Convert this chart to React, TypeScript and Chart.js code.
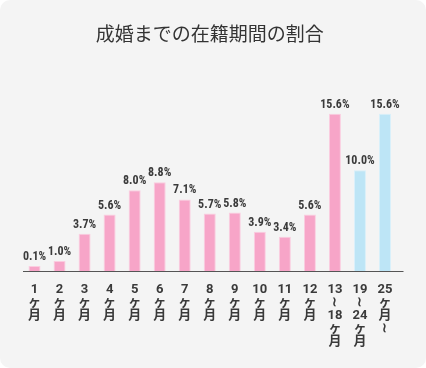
import React, { useEffect, useRef } from "react";
import { Chart, registerables } from "chart.js";

Chart.register(...registerables);

const TITLE = "成婚までの在籍期間の割合";
const categories: string[][] = [
  ["1", "ヶ", "月"],
  ["2", "ヶ", "月"],
  ["3", "ヶ", "月"],
  ["4", "ヶ", "月"],
  ["5", "ヶ", "月"],
  ["6", "ヶ", "月"],
  ["7", "ヶ", "月"],
  ["8", "ヶ", "月"],
  ["9", "ヶ", "月"],
  ["10", "ヶ", "月"],
  ["11", "ヶ", "月"],
  ["12", "ヶ", "月"],
  ["13", "≀", "18", "ヶ", "月"],
  ["19", "≀", "24", "ヶ", "月"],
  ["25", "ヶ", "月", "≀"],
];
const values = [0.1, 1.0, 3.7, 5.6, 8.0, 8.8, 7.1, 5.7, 5.8, 3.9, 3.4, 5.6, 15.6, 10.0, 15.6];
const groups = ["a", "a", "a", "a", "a", "a", "a", "a", "a", "a", "a", "a", "a", "b", "b"];

const FILL: Record<string, string> = { a: "#f7a5c8", b: "#bde5f6" };
const EDGE: Record<string, string> = { a: "#fbcde0", b: "#d9f0fa" };
const NUM_FONT = 'Roboto, "Noto Sans CJK JP", sans-serif';

const labelPlugin = {
  id: "valueLabels",
  afterDatasetsDraw(chart: any) {
    const ctx = chart.ctx;
    const meta = chart.getDatasetMeta(0);
    ctx.save();
    ctx.font = `bold 12px ${NUM_FONT}`;
    try { (ctx as any).fontStretch = "condensed"; } catch (e) {}
    ctx.fillStyle = "#3a3a3a";
    ctx.textAlign = "center";
    ctx.textBaseline = "bottom";
    meta.data.forEach((el: any, i: number) => {
      ctx.fillText(`${values[i].toFixed(1)}%`, el.x, el.y - 3);
    });
    ctx.restore();
  },
  afterDraw(chart: any) {
    const ctx = chart.ctx;
    const a = chart.chartArea;
    ctx.save();
    ctx.strokeStyle = "#555555";
    ctx.lineWidth = 1;
    ctx.beginPath();
    ctx.moveTo(a.left + 1, Math.round(a.bottom) + 0.5);
    ctx.lineTo(a.right + 6, Math.round(a.bottom) + 0.5);
    ctx.stroke();
    ctx.restore();
  },
};

export default function App() {
  const ref = useRef<HTMLCanvasElement | null>(null);
  useEffect(() => {
    if (!ref.current) return;
    const chart = new Chart(ref.current, {
      type: "bar",
      data: {
        labels: categories,
        datasets: [
          {
            data: values,
            backgroundColor: groups.map((g) => FILL[g]),
            borderColor: groups.map((g) => EDGE[g]),
            borderWidth: 1,
            barPercentage: 0.48,
            categoryPercentage: 1,
            minBarLength: 5,
          },
        ],
      },
      options: {
        responsive: false,
        animation: false,
        layout: { padding: { left: 22, right: 28.5, top: 0, bottom: 16 } },
        plugins: {
          legend: { display: false },
          tooltip: { enabled: false },
          title: {
            display: true,
            text: TITLE,
            color: "#333333",
            font: { family: '"Noto Sans CJK JP", sans-serif', size: 19, weight: "normal", lineHeight: 1.2 },
            padding: { top: 22, bottom: 44.7 },
          },
        },
        scales: {
          x: {
            grid: { display: false },
            border: { display: false },
            ticks: {
              color: "#3a3a3a",
              autoSkip: false,
              maxRotation: 0,
              minRotation: 0,
              padding: 4,
              font: { family: NUM_FONT, size: 13, weight: "bold", lineHeight: 1 },
            },
          },
          y: {
            display: false,
            min: 0,
            max: 18,
          },
        },
      },
      plugins: [labelPlugin],
    });
    return () => chart.destroy();
  }, []);
  return (
    <div
      style={{
        position: "absolute",
        left: 0,
        top: 0,
        width: 426,
        height: 368,
        borderRadius: 10,
        background: "#f4f4f4",
        overflow: "hidden",
      }}
    >
      <canvas ref={ref} width={426} height={368} style={{ display: "block" }} />
    </div>
  );
}
